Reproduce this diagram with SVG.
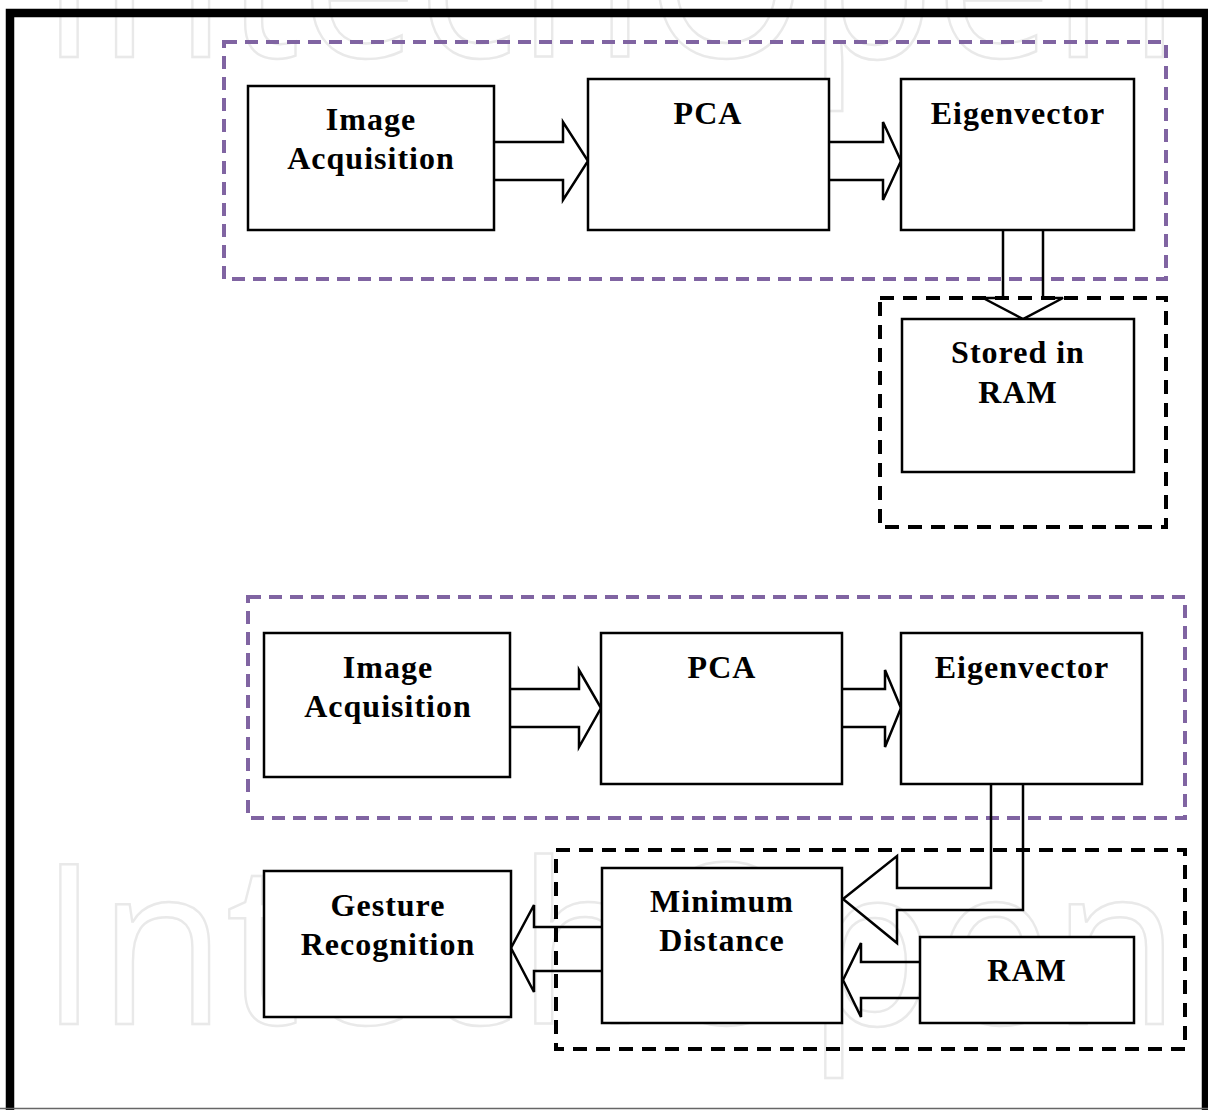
<svg xmlns="http://www.w3.org/2000/svg" width="1208" height="1110" viewBox="0 0 1208 1110">
<style>
.wm{font-family:"Open Sans","DejaVu Sans",sans-serif;font-size:223px;fill:#ffffff;stroke:#e9e9e9;stroke-width:2.5}
.box{fill:#ffffff;stroke:#000000;stroke-width:2.5}
.lbl{font-family:"Liberation Serif","Times New Roman",serif;font-weight:bold;font-size:32px;letter-spacing:1px;fill:#000000;text-anchor:middle}
.pur{fill:none;stroke:#8064A2;stroke-width:4;stroke-dasharray:13 8}
.blk{fill:none;stroke:#000000;stroke-width:4;stroke-dasharray:14 9}
.arr{fill:none;stroke:#000000;stroke-width:2.5;stroke-linejoin:miter}
</style>
<rect x="0" y="0" width="1208" height="1110" fill="#ffffff"/>
<g id="watermark">
<text class="wm" x="40" y="57" textLength="1140" lengthAdjust="spacingAndGlyphs">IntechOpen</text>
<text class="wm" x="40" y="1024" textLength="1140" lengthAdjust="spacingAndGlyphs">IntechOpen</text>
</g>
<g id="frame">
<path d="M10,1110 V13 H1206 V1110" fill="none" stroke="#000000" stroke-width="8.5"/>
<line x1="0" y1="1108.5" x2="1208" y2="1108.5" stroke="#666666" stroke-width="1.5"/>
</g>
<g id="groups">
<rect id="train-group" class="pur" x="224" y="42" width="942" height="237"/>
<rect id="store-group" class="blk" x="880" y="298" width="286" height="229"/>
<rect id="test-group" class="pur" x="248" y="597" width="937" height="221"/>
<rect id="match-group" class="blk" x="556" y="850" width="629" height="199"/>
</g>
<g id="connectors">
<path class="arr" d="M494,142 H563 V122 L588,161 L563,200 V180 H494"/>
<path class="arr" d="M829,142 H883 V122 L901,161 L883,200 V180 H829"/>
<path class="arr" d="M1003,230 V298 H983 L1023,319 L1063,298 H1043 V230"/>
<path class="arr" d="M510,689 H579 V670 L601,708 L579,747 V727 H510"/>
<path class="arr" d="M842,689 H885 V670 L901,708 L885,747 V727 H842"/>
<path class="arr" d="M991,784 V888 H897 V856 L843,899 L897,943 V910 H1023 V784"/>
<path class="arr" d="M920,962 H861 V943 L843,980 L861,1017 V998 H920"/>
<path class="arr" d="M601,927 H534 V905 L511,948 L534,992 V971 H601"/>
</g>
<g id="node-acq1">
<rect class="box" x="248" y="86" width="246" height="144"/>
<text class="lbl" x="371" y="130">Image</text>
<text class="lbl" x="371" y="169">Acquisition</text>
</g>
<g id="node-pca1">
<rect class="box" x="588" y="79" width="241" height="151"/>
<text class="lbl" x="708" y="124">PCA</text>
</g>
<g id="node-eig1">
<rect class="box" x="901" y="79" width="233" height="151"/>
<text class="lbl" x="1018" y="124">Eigenvector</text>
</g>
<g id="node-stored">
<rect class="box" x="902" y="319" width="232" height="153"/>
<text class="lbl" x="1018" y="363">Stored in</text>
<text class="lbl" x="1018" y="403">RAM</text>
</g>
<g id="node-acq2">
<rect class="box" x="264" y="633" width="246" height="144"/>
<text class="lbl" x="388" y="678">Image</text>
<text class="lbl" x="388" y="717">Acquisition</text>
</g>
<g id="node-pca2">
<rect class="box" x="601" y="633" width="241" height="151"/>
<text class="lbl" x="722" y="678">PCA</text>
</g>
<g id="node-eig2">
<rect class="box" x="901" y="633" width="241" height="151"/>
<text class="lbl" x="1022" y="678">Eigenvector</text>
</g>
<g id="node-mindist">
<rect class="box" x="602" y="868" width="240" height="155"/>
<text class="lbl" x="722" y="912">Minimum</text>
<text class="lbl" x="722" y="951">Distance</text>
</g>
<g id="node-ram">
<rect class="box" x="920" y="937" width="214" height="86"/>
<text class="lbl" x="1027" y="981">RAM</text>
</g>
<g id="node-gesture">
<rect class="box" x="264" y="871" width="247" height="146"/>
<text class="lbl" x="388" y="916">Gesture</text>
<text class="lbl" x="388" y="955">Recognition</text>
</g>
</svg>
